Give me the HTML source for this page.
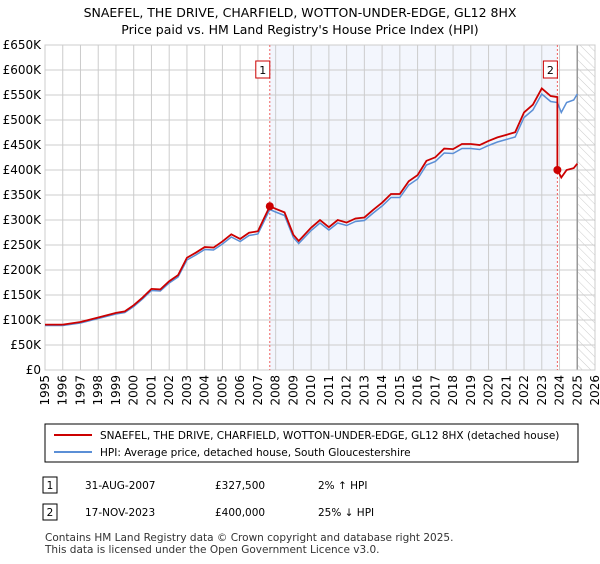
<!DOCTYPE html>
<html><head><meta charset="utf-8"><style>
body{margin:0;background:#fff;font-family:"DejaVu Sans","Liberation Sans",sans-serif;}
svg text{font-family:"DejaVu Sans","Liberation Sans",sans-serif;}
</style></head><body>
<svg id="c" width="600" height="560" xmlns="http://www.w3.org/2000/svg">
<defs><pattern id="hatch" width="6" height="6" patternUnits="userSpaceOnUse" patternTransform="rotate(-45)"><line x1="0" y1="0" x2="0" y2="6" stroke="#ccc" stroke-width="1"/></pattern></defs>
<text x="300" y="17" text-anchor="middle" font-size="12.5">SNAEFEL, THE DRIVE, CHARFIELD, WOTTON-UNDER-EDGE, GL12 8HX</text>
<text x="300" y="34" text-anchor="middle" font-size="12.5">Price paid vs. HM Land Registry's House Price Index (HPI)</text>
<g id="plot"></g>
<rect x="45" y="424" width="533" height="38" fill="#fff" stroke="#000"/>
<line x1="54" y1="435" x2="92" y2="435" stroke="#cc0000" stroke-width="2"/>
<text x="100" y="439" font-size="10.5">SNAEFEL, THE DRIVE, CHARFIELD, WOTTON-UNDER-EDGE, GL12 8HX (detached house)</text>
<line x1="54" y1="452" x2="92" y2="452" stroke="#5b8fd6" stroke-width="2"/>
<text x="100" y="456" font-size="10.5">HPI: Average price, detached house, South Gloucestershire</text>
<g font-size="10.5">
<rect x="43" y="477" width="14" height="16" fill="#fff" stroke="#000"/><text x="50" y="489" text-anchor="middle">1</text>
<text x="85" y="489">31-AUG-2007</text><text x="215" y="489">£327,500</text><text x="318" y="489">2% ↑ HPI</text>
<rect x="43" y="504" width="14" height="16" fill="#fff" stroke="#000"/><text x="50" y="516" text-anchor="middle">2</text>
<text x="85" y="516">17-NOV-2023</text><text x="215" y="516">£400,000</text><text x="318" y="516">25% ↓ HPI</text>
</g>
<text x="45" y="541" font-size="10.5" fill="#333">Contains HM Land Registry data © Crown copyright and database right 2025.</text>
<text x="45" y="553" font-size="10.5" fill="#333">This data is licensed under the Open Government Licence v3.0.</text>
</svg>
<script>
const years=[1995,1996,1997,1998,1999,1999.5,2000,2000.5,2001,2001.5,2002,2002.5,2003,2003.5,2004,2004.5,2005,2005.5,2006,2006.5,2007,2007.3,2007.67,2008,2008.5,2009,2009.3,2010,2010.5,2011,2011.5,2012,2012.5,2013,2013.5,2014,2014.5,2015,2015.5,2016,2016.5,2017,2017.5,2018,2018.5,2019,2019.5,2020,2020.5,2021,2021.5,2022,2022.5,2023,2023.5,2023.88,2024.1,2024.4,2024.8,2025];
const hpi=[89,89,94,103,112,115,127,142,159,158,174,186,220,230,241,240,252,266,257,269,272,294,321,316,309,265,253,279,294,280,294,289,297,299,314,328,345,345,370,382,410,417,434,433,443,443,441,449,456,461,466,505,520,552,537,535,515,535,540,552];
const saleDates=[2007.67,2023.88];
const salePrices=[327.5,400];
const yTicks=[0,50,100,150,200,250,300,350,400,450,500,550,600,650];
const yLabels=["£0","£50K","£100K","£150K","£200K","£250K","£300K","£350K","£400K","£450K","£500K","£550K","£600K","£650K"];
const xTicks=[1995,1996,1997,1998,1999,2000,2001,2002,2003,2004,2005,2006,2007,2008,2009,2010,2011,2012,2013,2014,2015,2016,2017,2018,2019,2020,2021,2022,2023,2024,2025,2026];
const L=45,R=595,T=45,B=370,X0=1995,X1=2026,Ymax=650;
const xs=v=>L+(v-X0)/(X1-X0)*(R-L);
const ys=v=>B-v/Ymax*(B-T);
const NS="http://www.w3.org/2000/svg";
const g=document.getElementById('plot');
function mk(tag,attrs,parent){const e=document.createElementNS(NS,tag);for(const k in attrs)e.setAttribute(k,attrs[k]);(parent||g).appendChild(e);return e;}
function hpiAt(t){for(let i=0;i<years.length-1;i++){if(t<=years[i+1]){const f=(t-years[i])/(years[i+1]-years[i]);return hpi[i]+f*(hpi[i+1]-hpi[i]);}}return hpi[hpi.length-1];}
let e;
e=mk('rect',{x:xs(saleDates[0]),y:T,width:xs(saleDates[1])-xs(saleDates[0]),height:B-T,fill:'#eef2fc',opacity:0.7});


e=mk('rect',{x:xs(2025),y:T,width:R-xs(2025),height:B-T,fill:'url(#hatch)'});


yTicks.forEach((v,i)=>{
 e=mk('line',{x1:L,x2:R,y1:ys(v),y2:ys(v),stroke:'#ccc'});
 
 
 e=mk('text',{x:L-4,y:ys(v)+4,'text-anchor':'end','font-size':12});
 e.textContent=yLabels[i];
 
 
});
xTicks.forEach(v=>{
 e=mk('line',{x1:xs(v),x2:xs(v),y1:T,y2:B,stroke:'#ccc'});
 
 
 e=mk('text',{x:0,y:0,'text-anchor':'end','font-size':12,transform:`translate(${xs(v)+4},${B+5}) rotate(-90)`});
 e.textContent=v;
 
 
});
e=mk('line',{x1:xs(2025),x2:xs(2025),y1:T,y2:B,stroke:'#999','stroke-width':1.5});


e=mk('rect',{x:L,y:T,width:R-L,height:B-T,fill:'none',stroke:'#ccc'});


saleDates.forEach((d,i)=>{
 e=mk('line',{x1:xs(d),x2:xs(d),y1:T,y2:B,stroke:'#f06060','stroke-dasharray':'2,2'});
 
 
 e=mk('rect',{x:xs(d)-14,y:61,width:14,height:17,fill:'#fff',stroke:'#cc0000'});
 
 
 e=mk('text',{x:xs(d)-7,y:74,'text-anchor':'middle','font-size':11});
 e.textContent=String(i+1);
 
 
});
e=mk('polyline',{points:years.map((y,i)=>xs(y)+','+ys(hpi[i])).join(' '),fill:'none',stroke:'#5b8fd6','stroke-width':1.5});


const pts=[];
years.forEach((y,i)=>{
 let k=-1;saleDates.forEach((d,j)=>{if(y>=d-0.001)k=j;});
 if(k<0)k=0;
 const f=salePrices[k]/hpiAt(saleDates[k]);
 if(k===1&&y===saleDates[1]){pts.push([y,hpi[i]*salePrices[0]/hpiAt(saleDates[0])]);}
 pts.push([y,hpi[i]*f]);
});
e=mk('polyline',{points:pts.map(p=>xs(p[0])+','+ys(p[1])).join(' '),fill:'none',stroke:'#cc0000','stroke-width':1.8});


saleDates.forEach((d,i)=>{
 e=mk('circle',{cx:xs(d),cy:ys(salePrices[i]),r:4,fill:'#cc0000'});
 
 
});
</script>
</body></html>
